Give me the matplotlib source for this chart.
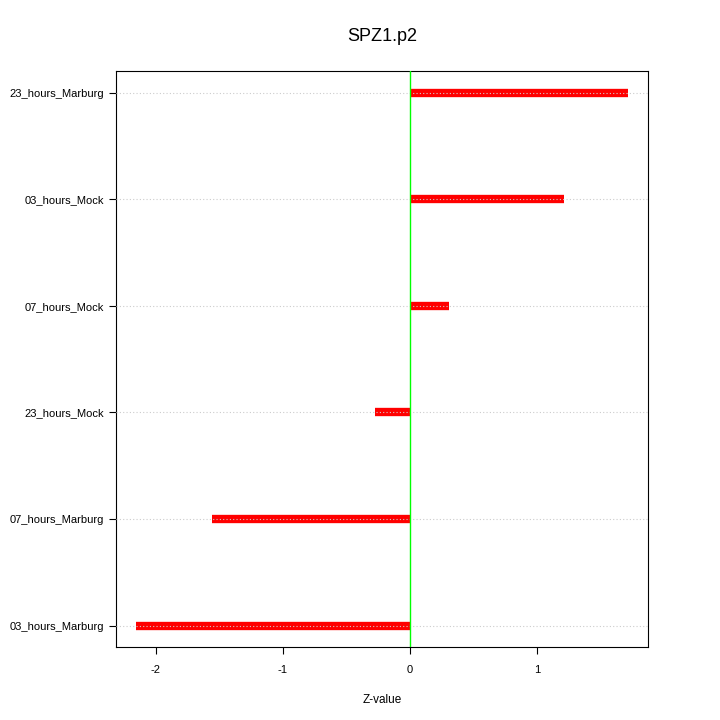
import numpy as np
import matplotlib
matplotlib.use("Agg")
from matplotlib import pyplot as plt

plt.rcParams["font.family"] = ["Liberation Sans", "DejaVu Sans"]

labels = ["03_hours_Marburg", "07_hours_Marburg", "23_hours_Mock",
          "07_hours_Mock", "03_hours_Mock", "23_hours_Marburg"]
zvalues = [-2.157, -1.559, -0.276, 0.307, 1.213, 1.717]

fig = plt.figure(figsize=(7.2, 7.2), dpi=100)
ax = fig.add_axes([0.161, 0.1014, 0.739, 0.7996])

ypos = np.arange(1, len(labels) + 1)

# dotted guide lines at each row
for y in ypos:
    ax.axhline(y, color="#cccccc", linestyle=(0, (1, 2)), linewidth=0.8, zorder=3)

ax.hlines(ypos, 0, zvalues, colors="red", linewidth=6, zorder=2, capstyle="butt")
ax.axvline(0, color="#00ff00", linewidth=1, zorder=4)

rng = max(zvalues) - min(zvalues)
ax.set_xlim(min(zvalues) - 0.04 * rng, max(zvalues) + 0.04 * rng)
ax.set_ylim(0.8, 6.2)

ax.set_yticks(ypos)
ax.set_yticklabels(labels, fontsize=8)
ax.set_xticks([-2, -1, 0, 1])
ax.set_xticklabels(["-2", "-1", "0", "1"], fontsize=8)
ax.tick_params(length=5, width=0.8)
ax.tick_params(axis="x", pad=8)

ax.set_xlabel("Z-value", fontsize=8.5, labelpad=14)
ax.set_title("SPZ1.p2", fontsize=13, pad=22)

for s in ax.spines.values():
    s.set_linewidth(0.8)

fig.savefig("out.png", dpi=100)
